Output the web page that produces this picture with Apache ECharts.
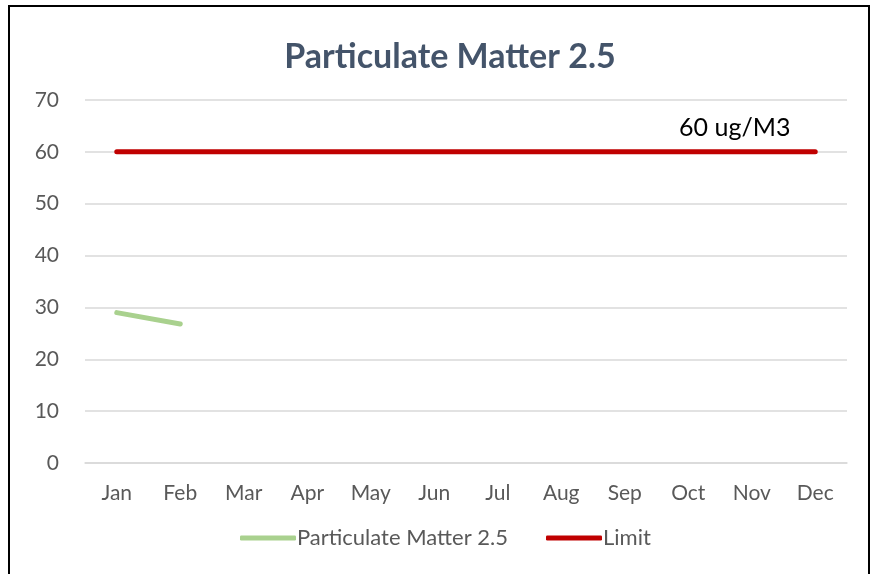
<!DOCTYPE html>
<html>
<head>
<meta charset="utf-8">
<script src="https://cdn.jsdelivr.net/npm/echarts@6/dist/echarts.min.js"></script>
<style>
  html, body { margin: 0; padding: 0; background: #fff; }
  #frame { position: absolute; left: 8px; top: 5px; width: 862px; height: 600px; border: 2px solid #000; box-sizing: border-box; }
  #chart { position: absolute; left: 0; top: 0; width: 873px; height: 574px; }
</style>
</head>
<body>
<div id="frame"></div>
<div id="chart"></div>
<script>
// 月份
const months = ['Jan', 'Feb', 'Mar', 'Apr', 'May', 'Jun', 'Jul', 'Aug', 'Sep', 'Oct', 'Nov', 'Dec'];
// PM2.5 数值（只有前两个月）
const pmValues = [29, 26.8, null, null, null, null, null, null, null, null, null, null];
// 限值
const limitValues = [60, 60, 60, 60, 60, 60, 60, 60, 60, 60, 60, 60];
const limitLabel = '60 ug/M3';

const font = 'Lato, "Open Sans", sans-serif';

const chart = echarts.init(document.getElementById('chart'));

const option = {
    animation: false,
    title: {
        text: 'Particulate Matter 2.5',
        left: 445,
        top: 35,
        textAlign: 'center',
        textStyle: { fontFamily: font, fontSize: 34, fontWeight: 'bold', color: '#44546A' }
    },
    legend: {
        bottom: 20,
        left: 235,
        itemWidth: 56,
        itemHeight: 5,
        itemGap: 38,
        icon: 'roundRect',
        textStyle: { fontFamily: font, fontSize: 22, color: '#595959', padding: [0, 0, 0, -4] },
        data: ['Particulate Matter 2.5', 'Limit']
    },
    grid: { left: 85, right: 26, top: 100, bottom: 111 },
    xAxis: {
        type: 'category',
        data: months,
        boundaryGap: true,
        axisLine: { lineStyle: { color: '#D9D9D9', width: 1.5 } },
        axisTick: { show: false },
        axisLabel: { fontFamily: font, fontSize: 21, color: '#595959', margin: 20 }
    },
    yAxis: {
        type: 'value',
        min: 0,
        max: 70,
        interval: 10,
        axisLine: { show: false },
        axisTick: { show: false },
        axisLabel: { fontFamily: font, fontSize: 21, color: '#595959', margin: 26 },
        splitLine: { lineStyle: { color: '#D9D9D9', width: 1.5 } }
    },
    series: [
        {
            name: 'Particulate Matter 2.5',
            type: 'line',
            data: pmValues,
            symbol: 'none',
            lineStyle: { color: '#A9D18E', width: 5, cap: 'round' },
            itemStyle: { color: '#A9D18E' }
        },
        {
            name: 'Limit',
            type: 'line',
            data: limitValues,
            symbol: 'circle',
            symbolSize: 0,
            label: {
                show: true,
                formatter: p => p.dataIndex === 10 ? limitLabel : '',
                position: 'top',
                distance: 11,
                offset: [-17, 0],
                fontFamily: font,
                fontSize: 25,
                color: '#000'
            },
            lineStyle: { color: '#C00000', width: 5, cap: 'round' },
            itemStyle: { color: '#C00000' }
        }
    ]
};

chart.setOption(option);
</script>
</body>
</html>
